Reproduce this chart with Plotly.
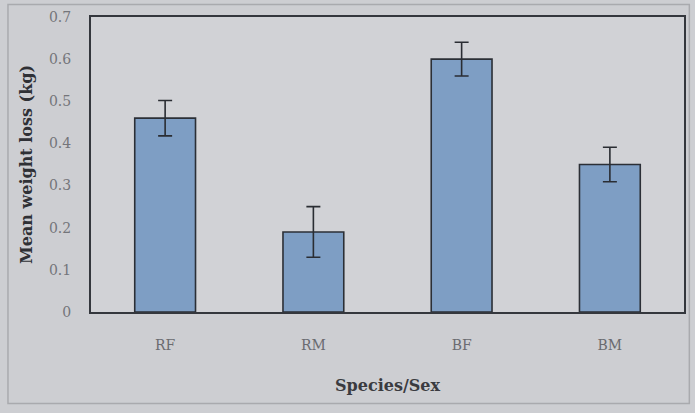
import plotly.graph_objects as go

categories = ["RF", "RM", "BF", "BM"]
mean_loss = [0.46, 0.19, 0.60, 0.35]
err = [0.042, 0.06, 0.04, 0.041]
y_ticks = [0, 0.1, 0.2, 0.3, 0.4, 0.5, 0.6, 0.7]
y_tick_labels = ["0", "0.1", "0.2", "0.3", "0.4", "0.5", "0.6", "0.7"]

fig = go.Figure()
fig.add_trace(go.Bar(
    x=categories, y=mean_loss,
    marker=dict(color="#7e9ec4", line=dict(color="#2b2f36", width=1.6)),
    error_y=dict(type="data", array=err, visible=True, color="#2a2d33", thickness=1.6, width=7),
    width=0.41,
))

serif = "DejaVu Serif, Liberation Serif, serif"
fig.update_layout(
    width=695, height=413,
    margin=dict(l=91, r=11, t=17, b=101, autoexpand=False),
    paper_bgcolor="#cdced2",
    plot_bgcolor="#d1d2d6",
    showlegend=False,
    font=dict(family=serif, color="#6f7075", size=14),
    xaxis=dict(
        showgrid=False, showline=True, linecolor="#34373d", linewidth=2, mirror=True,
        ticks="", ticklabelstandoff=19, automargin=False,
        tickfont=dict(family=serif, size=14, color="#6a6b70"),
        title=dict(text="<b>Species/Sex</b>", font=dict(family=serif, size=16, color="#3a3b40"), standoff=28),
    ),
    yaxis=dict(
        range=[0, 0.7], showgrid=False, zeroline=False, showline=True, linecolor="#34373d", linewidth=2, mirror=True,
        tickvals=y_ticks, ticktext=y_tick_labels, ticks="", ticklabelstandoff=15, automargin=False,
        tickfont=dict(family=serif, size=14, color="#74757a"),
        title=dict(text="<b>Mean weight loss (kg)</b>", font=dict(family=serif, size=16, color="#2f3035"), standoff=12),
    ),
    shapes=[
        dict(type="rect", xref="paper", yref="paper", x0=-0.14, x1=1.009, y0=-0.31, y1=1.042,
             line=dict(color="#a9aaae", width=1.5), fillcolor="rgba(0,0,0,0)", layer="below"),
    ],
)

fig.write_html("out.html", config={"displayModeBar": False},
               post_script="document.body.style.margin='0';document.body.style.padding='0';")
